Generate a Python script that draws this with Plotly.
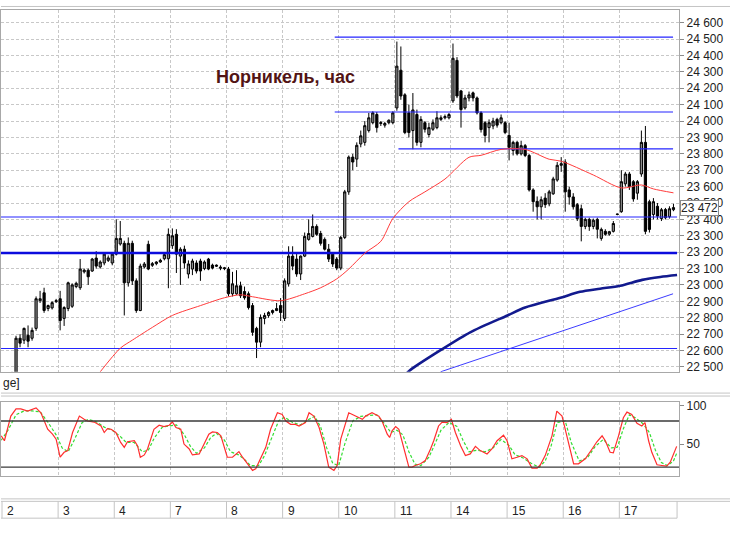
import plotly.graph_objects as go

# --- hourly candles, 14 bars per trading day -------------------------------
days = ["2", "3", "4", "7", "8", "9", "10", "11", "14", "15", "16", "17"]
bars_per_day = 14

opens = [
    22300, 22330, 22370, 22440, 22675, 22663, 22693, 22675, 22735, 22904, 22952, 22856, 22860, 22898,
    22916, 22796, 22856, 22870, 22990, 22983, 23080, 23090, 23085, 23164, 23110, 23134, 23150, 23134,
    23188, 23250, 23254, 23013, 23254, 23025, 22844, 23110, 23248, 23120, 23130, 23140, 23160, 23160,
    23240, 23309, 23176, 23218, 23067, 23097, 23134, 23146, 23100, 23158, 23121, 23121, 23109, 23105,
    23097, 22946, 22946, 22995, 22960, 22946, 22874, 22735, 22651, 22796, 22814, 22832, 22844, 22874,
    22796, 23007, 23176, 23158, 23067, 23176, 23278, 23296, 23357, 23314, 23278, 23218, 23188, 23158,
    23103, 23290, 23568, 23780, 23768, 23860, 23870, 23942, 23990, 24040, 23985, 23975, 23990, 23990,
    24080, 24310, 24160, 24050, 23942, 24040, 23870, 23990, 23918, 23950, 23960, 24010, 24020, 24020,
    24123, 24370, 24184, 24080, 24141, 24172, 24141, 24050, 23990, 23960, 23970, 24010, 23990, 23990,
    23912, 23820, 23870, 23800, 23850, 23790, 23580, 23510, 23477, 23530, 23495, 23556, 23640, 23730,
    23750, 23580, 23537, 23490, 23465, 23357, 23400, 23357, 23400, 23284, 23327, 23310, 23327, 23430,
    23447, 23617, 23677, 23630, 23560, 23677, 23870, 23508, 23430, 23480, 23405, 23460, 23417, 23459,
]
highs = [
    22350, 22400, 22470, 22690, 22700, 22740, 22753, 22740, 22930, 22964, 22983, 22880, 22900, 22915,
    22964, 22870, 23020, 23010, 23020, 23158, 23100, 23100, 23165, 23206, 23150, 23200, 23180, 23200,
    23400, 23390, 23270, 23290, 23270, 23040, 23130, 23140, 23270, 23140, 23145, 23160, 23195, 23345,
    23345, 23340, 23230, 23240, 23150, 23160, 23150, 23160, 23150, 23165, 23130, 23125, 23120, 23110,
    23110, 23080, 23090, 23020, 22990, 22960, 22890, 22745, 22820, 22830, 22840, 22850, 22890, 22920,
    23040, 23236, 23236, 23200, 23180, 23320, 23400, 23430, 23370, 23330, 23290, 23250, 23200, 23170,
    23300, 23580, 23790, 23800, 23870, 23942, 24000, 24050, 24060, 24055, 24000, 23995, 24010, 24060,
    24485, 24455, 24170, 24100, 24171, 24070, 24030, 24000, 23990, 24010, 24060, 24035, 24040, 24050,
    24473, 24390, 24190, 24160, 24180, 24180, 24150, 24060, 24000, 24010, 24020, 24020, 24040, 24000,
    23990, 23880, 23880, 23880, 23860, 23800, 23590, 23540, 23540, 23560, 23580, 23660, 23750, 23780,
    23767, 23600, 23560, 23500, 23490, 23410, 23410, 23405, 23410, 23350, 23340, 23330, 23390, 23435,
    23700, 23690, 23690, 23640, 23640, 23942, 23970, 23520, 23530, 23500, 23470, 23470, 23480, 23495,
]
lows = [
    22250, 22300, 22340, 22420, 22620, 22640, 22620, 22660, 22720, 22890, 22830, 22840, 22850, 22890,
    22723, 22750, 22840, 22860, 22980, 22970, 23070, 23000, 23080, 23100, 23100, 23120, 23140, 23120,
    23180, 23240, 22814, 22990, 23000, 22830, 22840, 23100, 23090, 23110, 23120, 23135, 23150, 22980,
    23220, 23073, 23000, 23100, 23040, 23060, 23070, 23025, 23090, 23090, 23095, 23110, 23090, 23090,
    22930, 22930, 22940, 22920, 22910, 22850, 22690, 22554, 22620, 22760, 22800, 22820, 22840, 22780,
    22780, 22990, 23090, 23050, 23030, 23170, 23270, 23290, 23300, 23240, 23210, 23140, 23110, 23090,
    23090, 23280, 23550, 23700, 23720, 23840, 23850, 23930, 23980, 23930, 23970, 23960, 23980, 23980,
    24063, 24130, 23920, 23900, 23828, 23850, 23840, 23930, 23900, 23940, 23950, 24000, 24010, 24010,
    24111, 24140, 23960, 24070, 24120, 24120, 24040, 23930, 23870, 23870, 23950, 23960, 23980, 23920,
    23760, 23790, 23790, 23790, 23780, 23570, 23447, 23400, 23400, 23470, 23480, 23550, 23630, 23690,
    23447, 23490, 23460, 23390, 23266, 23340, 23330, 23340, 23284, 23270, 23300, 23300, 23320, 23425,
    23440, 23600, 23580, 23508, 23520, 23660, 23309, 23320, 23400, 23400, 23390, 23400, 23405, 23450,
]
closes = [
    22330, 22370, 22440, 22675, 22645, 22735, 22657, 22723, 22916, 22916, 22844, 22874, 22892, 22904,
    22783, 22862, 23013, 23000, 23010, 23097, 23090, 23050, 23158, 23115, 23140, 23188, 23165, 23188,
    23284, 23284, 23013, 23254, 23025, 22844, 23115, 23128, 23097, 23130, 23140, 23150, 23185, 23309,
    23300, 23188, 23218, 23134, 23128, 23146, 23085, 23085, 23140, 23097, 23103, 23115, 23103, 23100,
    22946, 23007, 22995, 22934, 22922, 22862, 22711, 22651, 22802, 22814, 22832, 22844, 22856, 22832,
    23025, 23176, 23115, 23067, 23176, 23296, 23314, 23357, 23309, 23254, 23218, 23158, 23128, 23103,
    23290, 23568, 23780, 23750, 23852, 23910, 23972, 24020, 24050, 23960, 23990, 23985, 24005, 24050,
    24335, 24153, 23930, 23930, 24068, 23870, 24010, 23950, 23960, 23990, 24020, 24020, 24027, 24040,
    24383, 24153, 24070, 24141, 24160, 24141, 24050, 23948, 23912, 23990, 24000, 23975, 24020, 23930,
    23840, 23870, 23800, 23850, 23790, 23580, 23508, 23477, 23520, 23490, 23568, 23647, 23730, 23740,
    23568, 23537, 23477, 23405, 23357, 23400, 23357, 23395, 23340, 23339, 23309, 23325, 23375, 23432,
    23630, 23677, 23600, 23525, 23630, 23870, 23327, 23339, 23508, 23420, 23459, 23410, 23465, 23472,
]
last_price = 23472

# moving averages (bar index, price)
ma_fast_x = [24, 29, 32, 37, 42, 49, 55, 59, 62, 69, 75, 79, 83, 86, 90, 94, 97, 101,
             105, 110, 116, 119, 124, 130, 136, 139, 147, 154, 159, 162, 167]
ma_fast_y = [22470, 22614, 22663, 22741, 22814, 22874, 22922, 22940, 22928, 22904, 22946,
             22983, 23037, 23097, 23194, 23266, 23405, 23508, 23568, 23646, 23779, 23791,
             23827, 23827, 23767, 23755, 23671, 23592, 23610, 23586, 23562]
ma_slow_x = [100, 101.4, 108.9, 116.3, 125.6, 130, 138.8, 143.7, 148.7, 153.7, 159.2, 163.7, 167.9]
ma_slow_y = [22450, 22482, 22602, 22711, 22814, 22862, 22922, 22958, 22977, 22995, 23031, 23049, 23061]

# drawn levels and trend line
levels = [24512, 24055, 23830, 23415, 23195, 22612]
level_from = [82.5, 82.5, 98.4, -0.75, -0.75, -0.75]
level_to = [166.9, 166.9, 166.9, 167.9, 167.9, 167.9]
level_width = [1.1, 1.1, 1.1, 1.1, 2.5, 1.1]
trend_x = [108.9, 166.9]
trend_y = [22470, 22946]

# stochastic oscillator
stoch_k_x = [-0.7, 0.1, 1.7, 3.0, 4.2, 5.9, 8.0, 9.2, 10.9, 12.1, 13.0, 14.0, 15.0, 15.9, 17.1,
             18.8, 20.0, 20.8, 22.5, 24.2, 25.0, 25.8, 26.7, 27.9, 29.1, 30.0, 30.8, 32.5, 33.3,
             34.0, 35.0, 35.8, 37.4, 38.7, 39.9, 41.2, 42.0, 42.9, 44.1, 44.9, 46.2, 47.0, 48.7,
             49.9, 51.1, 52.0, 53.2, 54.1, 54.9, 55.7, 57.0, 58.6, 59.5, 60.7, 62.0, 62.8, 64.0,
             65.3, 66.5, 68.2, 69.4, 70.3, 71.5, 72.7, 73.6, 75.2, 76.1, 77.3, 78.6, 79.8, 81.0,
             82.3, 83.1, 84.0, 86.0, 87.7, 89.4, 90.2, 91.8, 93.5, 94.3, 95.6, 96.2, 96.8, 97.7,
             98.5, 99.3, 100.2, 101.0, 101.8, 102.6, 103.9, 105.1, 106.4, 107.2, 108.4, 109.3,
             110.5, 111.6, 112.6, 113.9, 115.1, 116.3, 117.6, 118.8, 120.5, 121.7, 123.0, 124.6,
             125.5, 126.7, 128.0, 129.2, 130.5, 131.7, 133.0, 133.8, 135.0, 136.7, 137.9, 139.2,
             140.4, 142.1, 143.3, 145.0, 146.7, 147.9, 149.2, 150.0, 151.2, 152.0, 153.3, 154.5,
             155.4, 156.6, 157.9, 159.1, 159.9, 160.8, 161.6, 162.9, 164.1, 165.3, 166.2, 167.0, 167.8]
stoch_k = [60.7, 54.3, 86.3, 95.7, 95.7, 92.7, 97.0, 90.6, 69.2, 62.8, 56.4, 32.9, 39.3, 41.5, 65.0,
           86.3, 82.1, 79.9, 78.6, 73.5, 65.0, 70.1, 69.2, 65.0, 52.1, 45.7, 53.0, 54.3, 47.9,
           32.9, 35.9, 43.6, 69.2, 74.4, 72.6, 74.4, 78.6, 71.4, 69.2, 50.0, 43.6, 35.9, 37.2,
           50.0, 62.8, 65.8, 65.0, 60.7, 47.9, 32.9, 32.9, 40.2, 32.9, 24.4, 15.8, 17.9, 30.8,
           45.7, 69.2, 90.6, 88.5, 79.9, 75.6, 75.6, 73.5, 77.8, 90.6, 86.3, 71.4, 50.0, 20.1,
           15.8, 22.2, 56.4, 90.6, 86.3, 82.1, 86.3, 90.6, 86.3, 79.9, 62.8, 58.5, 67.1, 72.6,
           69.2, 54.3, 37.2, 20.1, 20.1, 22.2, 24.4, 28.6, 43.6, 54.3, 73.5, 78.6,
           77.8, 82.1, 65.0, 47.9, 35.0, 37.2, 47.0, 41.5, 37.2, 43.6, 54.3, 61.5,
           54.3, 30.8, 32.9, 35.0, 30.8, 18.8, 18.8, 23.1, 35.0, 60.7, 92.7, 86.3,
           60.7, 24.4, 24.4, 30.8, 43.6, 53.0, 60.7, 54.3, 39.3, 38.5, 60.7, 84.2,
           91.5, 88.5, 76.9, 73.5, 77.8, 54.3, 39.3, 23.1, 22.2, 21.4, 26.5, 37.2, 47.0]
stoch_d_x = [-0.7, 1, 3, 5, 7, 9, 11, 13, 14.5, 16, 17.5, 19.5, 21, 23, 25, 27, 29, 30.5, 32.5,
             34.5, 36, 37.5, 39.5, 41.5, 43, 45, 46.5, 48, 50, 51.5, 53, 55, 56.5, 58.5, 60,
             61.5, 63.5, 65, 66.5, 68.5, 70, 72, 74, 76, 77.5, 79, 80.5, 82, 83.5, 85, 87, 89,
             91, 93, 95, 96.5, 98, 99.5, 101, 102.5, 104, 106, 107.5, 109, 111, 113, 114.5,
             116, 118, 120, 122, 124, 126, 127.5, 129.5, 131.5, 133.5, 135, 136.5, 138, 140,
             141.5, 143.5, 145.5, 147.5, 149.5, 151.5, 153, 154.5, 156, 157.5, 159.5, 161,
             162.5, 164, 165.5, 167, 167.8]
stoch_d = [55, 68, 88, 93, 93, 92, 78, 62, 45, 40, 55, 78, 82, 79, 72, 68, 60, 52, 52,
           40, 42, 58, 72, 74, 75, 62, 47, 38, 45, 58, 64, 55, 40, 36, 30,
           22, 22, 35, 55, 80, 85, 78, 75, 82, 86, 72, 45, 25, 22, 50, 80, 86,
           87, 88, 76, 65, 68, 62, 40, 24, 22, 33, 50, 68, 78, 73, 55,
           40, 42, 40, 45, 56, 48, 36, 32, 25, 20, 28, 48, 78, 80,
           52, 28, 32, 47, 56, 45, 46, 70, 88, 84, 76, 65,
           42, 26, 22, 28, 38]
stoch_levels = [80, 20]

# %%
n_bars = len(closes)
bar_idx = list(range(n_bars))
day_edges = [d * bars_per_day - 0.5 for d in range(len(days))]

W, H = 730, 534
px_x = lambda p: p / W
px_y = lambda p: 1 - p / H
x_dom = [0, px_x(679)]
x_range = [-0.75, 168.4]

fig = go.Figure()

fig.add_trace(go.Candlestick(
    x=bar_idx, open=opens, high=highs, low=lows, close=closes,
    increasing=dict(fillcolor="#8e8e8e", line=dict(color="#000000", width=1)),
    decreasing=dict(fillcolor="#000000", line=dict(color="#000000", width=1)),
    whiskerwidth=0, showlegend=False, hoverinfo="skip",
))

for lvl, x0, x1, w in zip(levels, level_from, level_to, level_width):
    fig.add_trace(go.Scatter(
        x=[x0, x1], y=[lvl, lvl], mode="lines",
        line=dict(color="#2424ff" if w < 2 else "#0c0cdd", width=w),
        showlegend=False, hoverinfo="skip",
    ))

fig.add_trace(go.Scatter(x=trend_x, y=trend_y, mode="lines",
                         line=dict(color="#3c3cff", width=1), showlegend=False))
fig.add_trace(go.Scatter(x=ma_fast_x, y=ma_fast_y, mode="lines",
                         line=dict(color="#ff3b3b", width=1, shape="spline", smoothing=0.8),
                         showlegend=False))
fig.add_trace(go.Scatter(x=ma_slow_x, y=ma_slow_y, mode="lines",
                         line=dict(color="#121a8e", width=2.6, shape="spline", smoothing=0.8),
                         showlegend=False))

# oscillator panel
fig.add_trace(go.Scatter(x=stoch_d_x, y=stoch_d, mode="lines", xaxis="x2", yaxis="y2",
                         line=dict(color="#33dd33", width=1.2, dash="3px,2px"), showlegend=False))
fig.add_trace(go.Scatter(x=stoch_k_x, y=stoch_k, mode="lines", xaxis="x2", yaxis="y2",
                         line=dict(color="#ff2e2e", width=1.2), showlegend=False))

shapes = []
for lvl in stoch_levels:
    shapes.append(dict(type="line", xref="paper", yref="y2", x0=x_dom[0], x1=x_dom[1],
                       y0=lvl, y1=lvl, line=dict(color="#3a3a3a", width=1.4)))

# grey separators between panels
for py in [2.5, 393.5, 396.5, 500.5, 503]:
    shapes.append(dict(type="line", xref="paper", yref="paper", x0=0, x1=1,
                       y0=px_y(py), y1=px_y(py), line=dict(color="#c4c4c4", width=1)))
shapes.append(dict(type="line", xref="paper", yref="paper", x0=0, x1=px_x(677),
                   y0=px_y(520), y1=px_y(520), line=dict(color="#c4c4c4", width=1)))
shapes.append(dict(type="line", xref="paper", yref="paper", x0=px_x(677), x1=px_x(677),
                   y0=px_y(503), y1=px_y(520), line=dict(color="#c4c4c4", width=1)))

# day separators and labels on the time strip
annotations = []
for edge, label in zip(day_edges, days):
    shapes.append(dict(type="line", xref="x", yref="paper", x0=edge, x1=edge,
                       y0=px_y(503), y1=px_y(520), line=dict(color="#c4c4c4", width=1)))
    annotations.append(dict(x=edge, y=px_y(513), xref="x", yref="paper", text=label,
                            showarrow=False, xanchor="left", yanchor="middle", xshift=3,
                            font=dict(size=12, color="#222222")))

annotations.append(dict(x=px_x(213), y=px_y(74), xref="paper", yref="paper",
                        text="<b>Норникель, час</b>", showarrow=False,
                        xanchor="left", yanchor="middle",
                        font=dict(size=18, color="#521414", family="Liberation Sans, Arial")))
annotations.append(dict(x=0, y=px_y(383), xref="paper", yref="paper", text="ge]",
                        showarrow=False, xanchor="left", yanchor="middle",
                        font=dict(size=12, color="#222222")))
annotations.append(dict(x=px_x(680), y=last_price, xref="paper", yref="y",
                        text=f"{last_price:,}".replace(",", " "), showarrow=False,
                        xanchor="left", yanchor="middle", bgcolor="#ffffff",
                        bordercolor="#8a8a8a", borderwidth=1, borderpad=0,
                        font=dict(size=12, color="#222222")))

grid = dict(showgrid=True, gridcolor="#c8c8c8", griddash="3px,2px", gridwidth=1)
frame = dict(showline=True, linecolor="#a8a8a8", linewidth=1, mirror=True, zeroline=False)

fig.update_layout(
    width=W, height=H,
    margin=dict(l=0, r=0, t=0, b=0),
    paper_bgcolor="#ffffff", plot_bgcolor="#ffffff",
    font=dict(family="Liberation Sans, Arial", size=12, color="#222222"),
    separators=". ",
    boxgap=0.22,
    xaxis=dict(domain=x_dom, range=x_range, anchor="y", tickvals=day_edges,
               showticklabels=False, ticks="", rangeslider=dict(visible=False), **grid, **frame),
    yaxis=dict(domain=[px_y(372), px_y(6)], range=[22470, 24678], side="right",
               anchor="x", tickvals=list(range(22500, 24700, 100)), tickformat=",d",
               ticks="outside", ticklen=4, tickcolor="#8a8a8a", **grid, **frame),
    xaxis2=dict(domain=x_dom, range=x_range, anchor="y2", matches="x", tickvals=day_edges,
                showticklabels=False, ticks="", **grid, **frame),
    yaxis2=dict(domain=[px_y(477), px_y(403)], range=[9, 104], side="right", anchor="x2",
                tickvals=[50, 100], ticks="outside", ticklen=4, tickcolor="#8a8a8a",
                showgrid=False, **frame),
    shapes=shapes,
    annotations=annotations,
)

# the page body has a default 8px margin; drop it so the figure fills the window
fig.write_html("out.html", config={"displayModeBar": False},
               post_script="document.body.style.margin = '0';")
